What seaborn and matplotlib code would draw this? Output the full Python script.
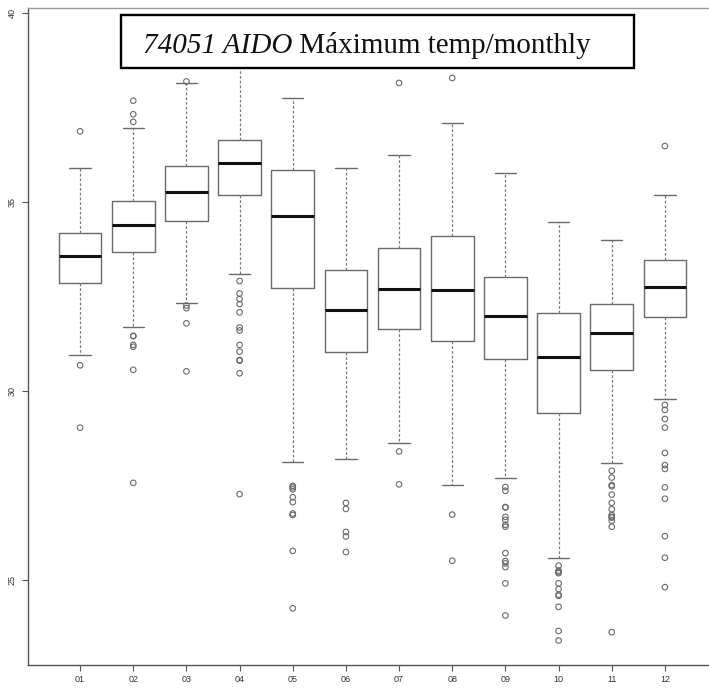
import matplotlib
matplotlib.use("Agg")
import matplotlib.pyplot as plt
from matplotlib.patches import Rectangle
import numpy as np
import pandas as pd
import seaborn as sns

# Monthly maximum temperature summary, station 74051 AIDO
months = ["01", "02", "03", "04", "05", "06", "07", "08", "09", "10", "11", "12"]
whisker_lo = [30.95, 31.68, 32.33, 33.10, 28.12, 28.19, 28.62, 27.52, 27.70, 25.59, 28.10, 29.80]
q1 = [32.86, 33.69, 34.49, 35.19, 32.72, 31.02, 31.65, 31.32, 30.85, 29.42, 30.56, 31.95]
median = [33.56, 34.39, 35.26, 36.02, 34.62, 32.14, 32.70, 32.66, 31.98, 30.90, 31.53, 32.74]
q3 = [34.18, 35.03, 35.96, 36.64, 35.84, 33.21, 33.79, 34.09, 33.02, 32.07, 32.31, 33.47]
whisker_hi = [35.89, 36.95, 38.14, 38.90, 37.74, 35.89, 36.25, 37.09, 35.76, 34.47, 33.99, 35.19]
outliers = [
    [36.87, 30.68, 29.03],
    [37.68, 37.32, 37.12, 31.46, 31.45, 31.22, 31.17, 30.56, 27.57],
    [38.19, 32.26, 32.19, 31.79, 30.52],
    [32.91, 32.58, 32.43, 32.30, 32.08, 31.68, 31.60, 31.22, 31.04, 30.82, 30.80, 30.47, 27.27],
    [27.49, 27.45, 27.40, 27.19, 27.06, 26.76, 26.72, 25.77, 24.25],
    [27.04, 26.88, 26.27, 26.15, 25.74],
    [38.15, 28.40, 27.53],
    [38.28, 26.73, 25.51],
    [27.46, 27.36, 26.93, 26.92, 26.67, 26.59, 26.46, 26.41, 25.71, 25.50, 25.44, 25.34, 24.91, 24.06],
    [25.38, 25.25, 25.21, 25.18, 24.91, 24.76, 24.61, 24.58, 24.29, 23.65, 23.40],
    [27.89, 27.71, 27.51, 27.48, 27.26, 27.04, 26.87, 26.72, 26.67, 26.65, 26.57, 26.41, 23.62],
    [36.48, 29.63, 29.50, 29.26, 29.03, 28.36, 28.04, 27.94, 27.45, 27.15, 26.16, 25.59, 24.81],
]
y_ticks = [25, 30, 35, 40]

sns.set_theme(style="white")
plt.rcParams["font.family"] = ["Liberation Sans", "DejaVu Sans"]

W, H = 709, 689
fig = plt.figure(figsize=(W / 100, H / 100), dpi=100)
fig.patch.set_facecolor("white")
# plot region runs past the right edge of the canvas
ax = fig.add_axes([28 / W, 24 / H, 689 / W, 657 / H])
ax.set_facecolor("white")

positions = np.arange(1, len(months) + 1)
stats = [
    dict(med=m, q1=a, q3=b, whislo=lo, whishi=hi, fliers=[])
    for m, a, b, lo, hi in zip(median, q1, q3, whisker_lo, whisker_hi)
]
ax.bxp(
    stats,
    positions=positions,
    widths=0.8,
    capwidths=0.4,
    showfliers=False,
    boxprops=dict(color="#6a6a6a", linewidth=1.0),
    medianprops=dict(color="#111111", linewidth=2.2, solid_capstyle="butt"),
    whiskerprops=dict(color="#7a7a7a", linewidth=0.9, linestyle=(0, (2.2, 1.6))),
    capprops=dict(color="#6a6a6a", linewidth=1.0),
    manage_ticks=False,
)

flier_df = pd.DataFrame(
    [(p, v) for p, vals in zip(positions, outliers) for v in vals],
    columns=["pos", "temp"],
)
sns.scatterplot(
    data=flier_df, x="pos", y="temp", ax=ax, marker="o", s=16,
    facecolor="none", edgecolor="#6a6a6a", linewidth=0.8, legend=False, zorder=3,
)

ax.set_xlim(0.02, 12.98)
ax.set_ylim(22.751, 40.132)
ax.set_xticks(positions)
ax.set_xticklabels(months)
ax.set_yticks(y_ticks)
ax.set_yticklabels([str(t) for t in y_ticks], rotation=90, va="center")
ax.set_xlabel("")
ax.set_ylabel("")
ax.tick_params(axis="both", which="major", length=4.5, width=0.8, color="#555555",
               labelsize=6.5, labelcolor="#333333", bottom=True, left=True)
ax.tick_params(axis="y", pad=3.5)
ax.tick_params(axis="x", pad=3)
for side in ["left", "bottom"]:
    ax.spines[side].set_color("#555555")
    ax.spines[side].set_linewidth(1.0)
ax.spines["top"].set_color("#9a9a9a")
ax.spines["top"].set_linewidth(1.0)
ax.spines["right"].set_visible(False)

# framed title
frame = Rectangle((121 / W, 1 - 68 / H), (634 - 121) / W, (68 - 15) / H,
                  transform=fig.transFigure, facecolor="white", edgecolor="black",
                  linewidth=1.7, zorder=5)
fig.add_artist(frame)
t1 = fig.text(143 / W, 1 - 53 / H, "74051 AIDO", family=["Liberation Serif", "DejaVu Serif"],
              fontstyle="italic", fontsize=21, va="baseline", ha="left", color="#111111", zorder=6)
fig.canvas.draw()
bb = t1.get_window_extent()
fig.text(bb.x1 / fig.bbox.width, 1 - 53 / H, " Máximum temp/monthly",
         family=["Liberation Serif", "DejaVu Serif"], fontsize=21, va="baseline", ha="left",
         color="#111111", zorder=6)

fig.savefig("out.png", dpi=100)
